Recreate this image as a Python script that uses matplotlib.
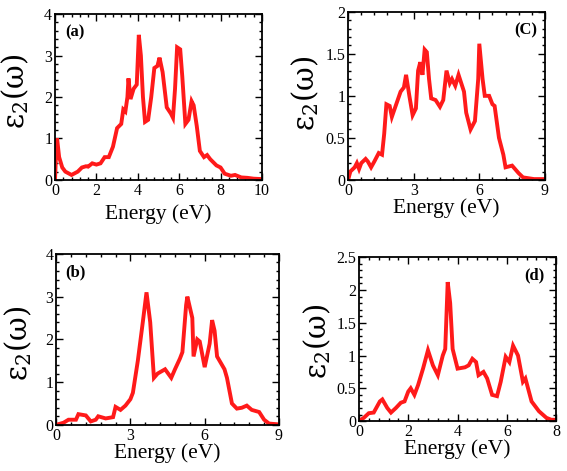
import matplotlib
matplotlib.use("Agg")
import matplotlib.pyplot as plt
from matplotlib.ticker import AutoMinorLocator

plt.rcParams['font.family'] = ['Liberation Serif', 'DejaVu Serif']
plt.rcParams['mathtext.fontset'] = 'dejavuserif'

# Panel (a)
a_x = [0, 0.05, 0.1, 0.2, 0.35, 0.5, 0.8, 1.1, 1.3, 1.5, 1.6, 1.8, 2.0, 2.2, 2.4, 2.6, 2.8, 3.0,
       3.2, 3.3, 3.4, 3.5, 3.55, 3.65, 3.8, 3.95, 4.05, 4.15, 4.25, 4.35, 4.5, 4.65, 4.8, 4.95,
       5.05, 5.2, 5.4, 5.6, 5.7, 5.8, 5.9, 6.05, 6.15, 6.3, 6.45, 6.6, 6.7, 6.85, 7.0, 7.2, 7.35,
       7.5, 7.8, 8.0, 8.2, 8.5, 8.7, 9.0, 9.3, 9.6, 10.0]
a_y = [0, 0.6, 1.0, 0.55, 0.3, 0.2, 0.12, 0.2, 0.3, 0.33, 0.32, 0.4, 0.37, 0.4, 0.55, 0.55, 0.8, 1.25,
       1.35, 1.7, 1.65, 2.0, 2.45, 1.95, 2.2, 2.3, 3.5, 3.0, 2.0, 1.4, 1.45, 2.0, 2.7, 2.75,
       2.95, 2.6, 1.75, 1.6, 1.5, 2.2, 3.2, 3.15, 2.5, 1.35, 1.45, 1.9, 1.8, 1.3, 0.7, 0.55, 0.6,
       0.5, 0.35, 0.3, 0.15, 0.1, 0.12, 0.06, 0.05, 0.03, 0.02]
a_xticks = [0, 2, 4, 6, 8, 10]
a_yticks = [0, 1, 2, 3, 4]
a_yticklabels = ['0', '1', '2', '3', '4']

# Panel (c)
c_x = [0, 0.1, 0.3, 0.4, 0.5, 0.6, 0.8, 0.9, 1.05, 1.2, 1.4, 1.55, 1.65, 1.75, 1.9, 2.0, 2.2, 2.4,
       2.55, 2.65, 2.8, 2.95, 3.1, 3.2, 3.3, 3.4, 3.5, 3.6, 3.7, 3.8, 4.0, 4.2, 4.35, 4.5, 4.65,
       4.75, 4.9, 5.05, 5.3, 5.4, 5.6, 5.8, 5.95, 6.0, 6.15, 6.25, 6.45, 6.6, 6.7, 6.9, 7.1, 7.2,
       7.5, 7.8, 8.0, 8.5, 9.0]
c_y = [0, 0.1, 0.15, 0.2, 0.13, 0.2, 0.25, 0.22, 0.15, 0.22, 0.32, 0.3, 0.55, 0.9, 0.88, 0.75, 0.9, 1.05,
       1.1, 1.25, 1.0, 0.77, 0.85, 1.3, 1.4, 1.25, 1.55, 1.52, 1.2, 0.97, 0.95, 0.87, 0.95, 1.3, 1.15,
       1.2, 1.12, 1.25, 1.05, 0.8, 0.6, 0.7, 1.2, 1.62, 1.2, 1.0, 1.0, 0.9, 0.88, 0.5, 0.3, 0.15,
       0.17, 0.08, 0.03, 0.01, 0.01]
c_xticks = [0, 3, 6, 9]
c_yticks = [0, 0.5, 1, 1.5, 2]
c_yticklabels = ['0', '0.5', '1', '1.5', '2']

# Panel (b)
b_x = [0, 0.3, 0.5, 0.8, 0.9, 1.2, 1.4, 1.6, 1.7, 2.0, 2.3, 2.4, 2.6, 2.8, 3.0, 3.1, 3.3, 3.5, 3.65,
       3.8, 3.95, 4.1, 4.4, 4.65, 4.8, 5.0, 5.1, 5.25, 5.3, 5.5, 5.55, 5.7, 5.8, 6.0, 6.2, 6.3, 6.4,
       6.5, 6.8, 6.9, 7.1, 7.3, 7.5, 7.7, 7.9, 8.2, 8.4, 8.6, 9.0]
b_y = [0, 0.05, 0.12, 0.12, 0.25, 0.22, 0.08, 0.12, 0.2, 0.15, 0.18, 0.42, 0.35, 0.45, 0.6, 0.75, 1.5, 2.4, 3.1,
       2.4, 1.1, 1.2, 1.3, 1.1, 1.3, 1.55, 1.7, 2.8, 3.0, 2.5, 1.6, 2.0, 1.95, 1.35, 1.9, 2.45, 2.2,
       1.6, 1.3, 1.1, 0.5, 0.38, 0.4, 0.45, 0.35, 0.3, 0.12, 0.03, 0.01]
b_xticks = [0, 3, 6, 9]
b_yticks = [0, 1, 2, 3, 4]
b_yticklabels = ['0', '1', '2', '3', '4']

# Panel (d)
d_x = [0, 0.2, 0.4, 0.6, 0.85, 0.95, 1.15, 1.3, 1.5, 1.7, 1.85, 2.0, 2.1, 2.25, 2.4, 2.6, 2.8, 3.0,
       3.2, 3.4, 3.5, 3.6, 3.7, 3.8, 4.0, 4.3, 4.45, 4.6, 4.75, 4.85, 5.05, 5.2, 5.4, 5.6, 5.75,
       5.95, 6.1, 6.25, 6.45, 6.65, 6.75, 7.0, 7.3, 7.6, 7.8, 8.0]
d_y = [0, 0.05, 0.12, 0.13, 0.3, 0.33, 0.2, 0.13, 0.2, 0.28, 0.3, 0.45, 0.5, 0.4, 0.55, 0.8, 1.08, 0.85,
       0.7, 1.0, 1.1, 2.12, 1.8, 1.1, 0.8, 0.82, 0.85, 0.95, 0.9, 0.7, 0.75, 0.65, 0.4, 0.38, 0.6,
       0.98, 0.9, 1.15, 1.0, 0.6, 0.65, 0.3, 0.15, 0.05, 0.02, 0.02]
d_xticks = [0, 2, 4, 6, 8]
d_yticks = [0, 0.5, 1, 1.5, 2, 2.5]
d_yticklabels = ['0', '0.5', '1', '1.5', '2', '2.5']

panels = [
    # rect, x, y, xticks, yticks, yticklabels, tag, tag_x, tag_ha, ylabel_xy, xlabel_y
    ([0.097, 0.618, 0.365, 0.352], a_x, a_y, a_xticks, a_yticks, a_yticklabels, '(a)', 0.05, 'left',
     (-0.118, 0.533), -0.145),
    ([0.614, 0.618, 0.347, 0.357], c_x, c_y, c_xticks, c_yticks, c_yticklabels, '(C)', 0.96, 'right',
     (-0.138, 0.515), -0.11),
    ([0.099, 0.098, 0.393, 0.363], b_x, b_y, b_xticks, b_yticks, b_yticklabels, '(b)', 0.04, 'left',
     (-0.100, 0.474), -0.105),
    ([0.633, 0.106, 0.348, 0.348], d_x, d_y, d_xticks, d_yticks, d_yticklabels, '(d)', 0.94, 'right',
     (-0.133, 0.488), -0.11),
]

fig = plt.figure(figsize=(5.67, 4.71), dpi=100)
for rect, xs, ys, xt, yt, ytl, lab, lx, ha, ylc, xly in panels:
    ax = fig.add_axes(rect)
    ax.plot(xs, ys, color='#ff1a1a', lw=2.8, solid_joinstyle='miter')
    ax.set_xlim(xt[0], xt[-1])
    ax.set_ylim(yt[0], yt[-1])
    ax.set_xticks(xt, [str(v) for v in xt])
    ax.set_yticks(yt, ytl)
    ax.xaxis.set_minor_locator(AutoMinorLocator(5))
    ax.yaxis.set_minor_locator(AutoMinorLocator(5))
    ax.tick_params(which='both', direction='in', top=True, right=True, labelsize=11.5)
    ax.tick_params(axis='x', pad=2)
    ax.tick_params(axis='y', pad=2)
    ax.tick_params(which='major', length=5, width=1)
    ax.tick_params(which='minor', length=2.5, width=1)
    for s in ax.spines.values():
        s.set_linewidth(1.3)
    ax.set_xlabel('Energy (eV)', fontsize=15.5)
    ax.xaxis.set_label_coords(0.5, xly)
    ax.set_ylabel(r'$\mathrm{ε_2(ω)}$', fontsize=21)
    ax.yaxis.set_label_coords(*ylc)
    ax.text(lx, 0.89, lab, transform=ax.transAxes, ha=ha, va='center',
            fontsize=12, fontweight='bold')

fig.savefig('out.png', dpi=100)
